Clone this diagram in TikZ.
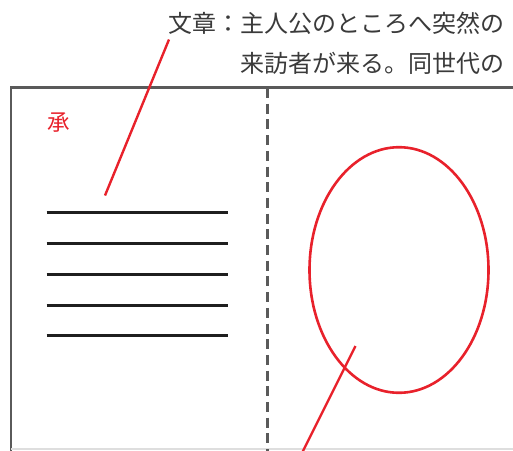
\documentclass[tikz,border=0pt]{standalone}
\usepackage{fontspec}
\newfontfamily\jpfont{Noto Sans CJK JP}
\usetikzlibrary{positioning}
\definecolor{framegray}{HTML}{5A5A5A}
\definecolor{textgray}{HTML}{3A3A3A}
\definecolor{markred}{HTML}{E8212B}
\newcommand{\jp}{\jpfont\fontsize{24}{24}\selectfont}

\begin{document}
\begin{tikzpicture}[x=1pt, y=-1pt,
        caption/.style={inner sep=0pt, text=textgray, font=\jp, anchor=east},
        pointer/.style={markred, line width=2.4pt},
        rule/.style={black!88, line width=3pt}]
        \useasboundingbox (0, 0) rectangle (513, 450);

        \draw[framegray, line width=2.5pt]
        (11, 460) to (11, 87.5) coordinate (frame nw) to (515, 87.5);
        \draw[black!13, line width=1.5pt]
        (11, 449) to (515, 449);
        \draw[framegray, line width=2.5pt, dash pattern=on 10pt off 5.7pt]
        (267.5, 88) to (267.5, 452);

        \node[caption] (line1) at (505, 23) {文章：主人公のところへ突然の};
        \node[caption] (line2) at (505, 63) {来訪者が来る。同世代の};

        \node[markred, inner sep=0pt, font={\jpfont\fontsize{22.5}{22.5}\selectfont}]
        (sho) at (58.5, 122.5) {承};

        \foreach \y in {212.7, 243.5, 274.3, 305.1, 335.9}
        \draw[rule] (46.5, \y) to (227.5, \y);

        \draw[markred, line width=2.6pt]
        (399, 270) coordinate (face) ellipse [x radius=89.5, y radius=122.8];

        \draw[pointer]
        (105, 195.5) coordinate (text tip) to (169, 39.5) coordinate (text end);
        \draw[pointer]
        (355.5, 346) coordinate (face tip) to (302.5, 452) coordinate (face end);
    \end{tikzpicture}
\end{document}
